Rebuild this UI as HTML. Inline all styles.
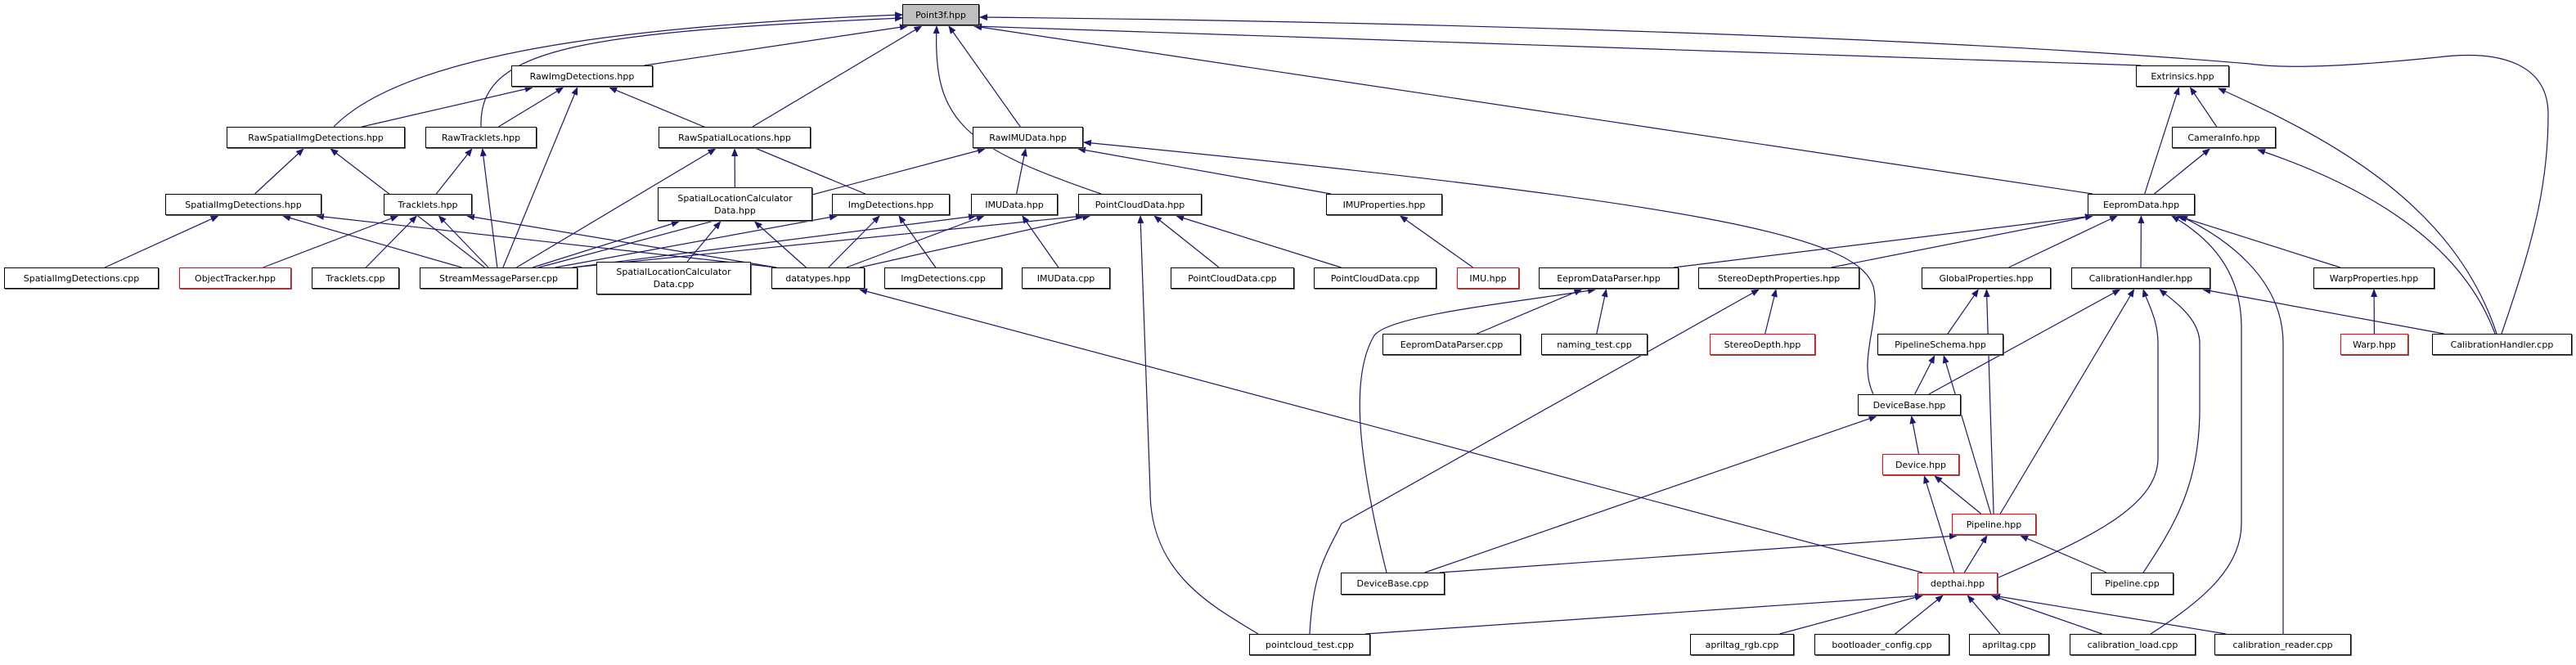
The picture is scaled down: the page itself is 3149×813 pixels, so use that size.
<!DOCTYPE html>
<html><head><meta charset="utf-8"><style>
html,body{margin:0;padding:0;background:#fff;}
#c{position:relative;width:3149px;height:813px;overflow:hidden;}
.n{position:absolute;box-sizing:border-box;border:1px solid #000;background:#fff;font-family:"DejaVu Sans","Liberation Sans",sans-serif;font-size:11px;color:#000;display:flex;align-items:center;justify-content:center;text-align:center;line-height:15px;box-shadow:1px 1px 0 #666;z-index:2;}
.r{border-color:#f00;}
.g{background:#bfbfbf;}
svg{position:absolute;left:0;top:0;z-index:1;}
</style></head><body><div id="c">
<svg id="s" width="3149" height="813"><defs><marker id="a" markerWidth="10" markerHeight="8" refX="9" refY="4" orient="auto" markerUnits="userSpaceOnUse"><path d="M0,0 L10,4 L0,8 z" fill="#191970"/></marker></defs></svg>
<div class="n g" id="p3" style="left:1103px;top:5px;width:94px;height:26px">Point3f.hpp</div>
<div class="n" id="rid" style="left:625px;top:80px;width:173px;height:26px">RawImgDetections.hpp</div>
<div class="n" id="ext" style="left:2611px;top:80px;width:114px;height:26px">Extrinsics.hpp</div>
<div class="n" id="rsid" style="left:277px;top:155px;width:218px;height:26px">RawSpatialImgDetections.hpp</div>
<div class="n" id="rt" style="left:520px;top:155px;width:136px;height:26px">RawTracklets.hpp</div>
<div class="n" id="rsl" style="left:805px;top:155px;width:186px;height:26px">RawSpatialLocations.hpp</div>
<div class="n" id="rimu" style="left:1189px;top:155px;width:135px;height:26px">RawIMUData.hpp</div>
<div class="n" id="cam" style="left:2655px;top:155px;width:127px;height:26px">CameraInfo.hpp</div>
<div class="n" id="sid" style="left:202px;top:237px;width:191px;height:26px">SpatialImgDetections.hpp</div>
<div class="n" id="tr" style="left:469px;top:237px;width:108px;height:26px">Tracklets.hpp</div>
<div class="n" id="slc" style="left:804px;top:229px;width:189px;height:41px">SpatialLocationCalculator<br>Data.hpp</div>
<div class="n" id="imgd" style="left:1017px;top:237px;width:144px;height:26px">ImgDetections.hpp</div>
<div class="n" id="imud" style="left:1187px;top:237px;width:106px;height:26px">IMUData.hpp</div>
<div class="n" id="pcd" style="left:1318px;top:237px;width:151px;height:26px">PointCloudData.hpp</div>
<div class="n" id="imup" style="left:1621px;top:237px;width:142px;height:26px">IMUProperties.hpp</div>
<div class="n" id="eep" style="left:2552px;top:237px;width:131px;height:26px">EepromData.hpp</div>
<div class="n" id="sidc" style="left:5px;top:327px;width:189px;height:26px">SpatialImgDetections.cpp</div>
<div class="n r" id="ot" style="left:219px;top:327px;width:137px;height:26px">ObjectTracker.hpp</div>
<div class="n" id="trc" style="left:381px;top:327px;width:107px;height:26px">Tracklets.cpp</div>
<div class="n" id="smp" style="left:513px;top:327px;width:193px;height:26px">StreamMessageParser.cpp</div>
<div class="n" id="slcc" style="left:729px;top:320px;width:189px;height:40px">SpatialLocationCalculator<br>Data.cpp</div>
<div class="n" id="dt" style="left:943px;top:327px;width:114px;height:26px">datatypes.hpp</div>
<div class="n" id="imgc" style="left:1081px;top:327px;width:144px;height:26px">ImgDetections.cpp</div>
<div class="n" id="imuc" style="left:1249px;top:327px;width:108px;height:26px">IMUData.cpp</div>
<div class="n" id="pc1" style="left:1431px;top:327px;width:151px;height:26px">PointCloudData.cpp</div>
<div class="n" id="pc2" style="left:1606px;top:327px;width:150px;height:26px">PointCloudData.cpp</div>
<div class="n r" id="imu" style="left:1781px;top:327px;width:76px;height:26px">IMU.hpp</div>
<div class="n" id="edp" style="left:1881px;top:327px;width:171px;height:26px">EepromDataParser.hpp</div>
<div class="n" id="sdp" style="left:2076px;top:327px;width:197px;height:26px">StereoDepthProperties.hpp</div>
<div class="n" id="gp" style="left:2349px;top:327px;width:158px;height:26px">GlobalProperties.hpp</div>
<div class="n" id="chh" style="left:2532px;top:327px;width:170px;height:26px">CalibrationHandler.hpp</div>
<div class="n" id="wp" style="left:2828px;top:327px;width:148px;height:26px">WarpProperties.hpp</div>
<div class="n" id="edpc" style="left:1690px;top:408px;width:169px;height:26px">EepromDataParser.cpp</div>
<div class="n" id="nt" style="left:1884px;top:408px;width:130px;height:26px">naming_test.cpp</div>
<div class="n r" id="sd" style="left:2090px;top:408px;width:129px;height:26px">StereoDepth.hpp</div>
<div class="n" id="ps" style="left:2295px;top:408px;width:154px;height:26px">PipelineSchema.hpp</div>
<div class="n r" id="wh" style="left:2861px;top:408px;width:83px;height:26px">Warp.hpp</div>
<div class="n" id="chc" style="left:2973px;top:408px;width:171px;height:26px">CalibrationHandler.cpp</div>
<div class="n" id="dbh" style="left:2271px;top:482px;width:126px;height:26px">DeviceBase.hpp</div>
<div class="n r" id="dev" style="left:2301px;top:555px;width:94px;height:26px">Device.hpp</div>
<div class="n r" id="pl" style="left:2386px;top:628px;width:103px;height:26px">Pipeline.hpp</div>
<div class="n" id="dbc" style="left:1639px;top:700px;width:127px;height:27px">DeviceBase.cpp</div>
<div class="n r" id="dai" style="left:2344px;top:700px;width:98px;height:27px">depthai.hpp</div>
<div class="n" id="plc" style="left:2556px;top:700px;width:101px;height:27px">Pipeline.cpp</div>
<div class="n" id="pct" style="left:1527px;top:775px;width:148px;height:26px">pointcloud_test.cpp</div>
<div class="n" id="arg" style="left:2066px;top:775px;width:127px;height:26px">apriltag_rgb.cpp</div>
<div class="n" id="blc" style="left:2218px;top:775px;width:165px;height:26px">bootloader_config.cpp</div>
<div class="n" id="at" style="left:2407px;top:775px;width:98px;height:26px">apriltag.cpp</div>
<div class="n" id="cl" style="left:2530px;top:775px;width:154px;height:26px">calibration_load.cpp</div>
<div class="n" id="cr" style="left:2707px;top:775px;width:167px;height:26px">calibration_reader.cpp</div>
</div>
<script>
var E=[["rsid","p3"],["rt","p3"],["rid","p3"],["rsl","p3"],["rimu","p3"],["pcd","p3"],["ext","p3"],["eep","p3"],["chc","p3"],
["rsid","rid"],["rt","rid"],["smp","rid"],["imgd","rid"],
["sid","rsid"],["smp","rsid"],["tr","rt"],["smp","rt"],["smp","rsl"],["slc","rsl"],
["smp","rimu"],["imud","rimu"],["imup","rimu"],["dbh","rimu"],
["sidc","sid"],["smp","sid"],["dt","sid"],["ot","tr"],["trc","tr"],["smp","tr"],["dt","tr"],
["smp","slc"],["slcc","slc"],["dt","slc"],["smp","imgd"],["dt","imgd"],["imgc","imgd"],
["smp","imud"],["dt","imud"],["imuc","imud"],["smp","pcd"],["dt","pcd"],["pc1","pcd"],["pc2","pcd"],["pct","pcd"],
["imu","imup"],["dai","dt"],["eep","ext"],["cam","ext"],["chc","ext"],["eep","cam"],["chc","cam"],
["edp","eep"],["sdp","eep"],["gp","eep"],["chh","eep"],["wp","eep"],["cl","eep"],["cr","eep"],
["edpc","edp"],["nt","edp"],["dbc","edp"],["sd","sdp"],["pct","sdp"],["ps","gp"],["pl","gp"],
["dbh","chh"],["pl","chh"],["dai","chh"],["plc","chh"],["chc","chh"],["wh","wp"],["dbh","ps"],["pl","ps"],
["dev","dbh"],["dbc","dbh"],["pl","dev"],["dai","dev"],["dbc","pl"],["dai","pl"],["plc","pl"],
["pct","dai"],["arg","dai"],["blc","dai"],["at","dai"],["cl","dai"],["cr","dai"]];
var C={
"rt,p3":"M588,155 C585,60 700,40 1103,22",
"rsid,p3":"M408,155 C500,60 800,30 1103,18",
"pcd,p3":"M1346,237 C1180,180 1140,150 1145,32",
"chc,p3":"M3058,408 C3095,300 3115,230 3115,140 C3115,80 3060,60 2980,70 C2880,80 2800,85 2750,78 C2300,40 1600,25 1198,21",
"chc,ext":"M3052,408 C3000,250 2850,170 2712,108",
"chc,cam":"M3050,408 C3010,300 2900,230 2760,183",
"dbh,rimu":"M2290,482 C2270,440 2300,390 2290,350 C2270,290 2100,250 1325,174",
"dbc,edp":"M1695,700 C1660,560 1650,460 1680,410 C1700,385 1850,370 1950,354",
"pct,sdp":"M1601,775 C1605,700 1620,680 1640,640 L2150,354",
"pct,pcd":"M1538,775 C1480,740 1406,700 1406,600 L1394,264",
"cl,eep":"M2629,775 C2700,730 2740,690 2740,640 L2740,400 C2740,330 2700,290 2655,264",
"cr,eep":"M2791,775 L2791,420 C2791,340 2720,290 2665,264",
"dai,chh":"M2443,706 C2550,660 2638,620 2638,560 L2638,420 C2638,390 2625,370 2620,354",
"plc,chh":"M2620,700 C2660,640 2689,590 2689,500 L2689,420 C2689,390 2660,370 2640,354"
};
var s=document.getElementById("s"),ns="http://www.w3.org/2000/svg";
function b(id){var e=document.getElementById(id);return{x:e.offsetLeft,y:e.offsetTop,w:e.offsetWidth,h:e.offsetHeight};}
function add(d){var p=document.createElementNS(ns,"path");p.setAttribute("d",d);p.setAttribute("stroke","#191970");p.setAttribute("fill","none");p.setAttribute("stroke-width","1.2");p.setAttribute("marker-end","url(#a)");s.appendChild(p);}
function cl(v,a,b){return Math.max(a,Math.min(b,v));}
E.forEach(function(e){var k=e[0]+","+e[1];if(C[k]){add(C[k]);return;}
var c=b(e[0]),p=b(e[1]);var cx=c.x+c.w/2,cy=c.y+c.h/2,px=p.x+p.w/2,py=p.y+p.h/2;
var a,z;
if(p.y+p.h<c.y){
 var y1=c.y,y2=p.y+p.h+1;
 var x1=cx+(px-cx)*((cy-y1)/(cy-py));x1=cl(x1,c.x+6,c.x+c.w-6);
 var x2=px+(cx-px)*((y2-py)/(cy-py));x2=cl(x2,p.x+6,p.x+p.w-6);
 a=[x1,y1];z=[x2,y2];
}else{
 var dx=px-cx,dy=py-cy;
 function clip(r,dx,dy){var x=r.x+r.w/2,y=r.y+r.h/2;var t=Math.min(dx?r.w/2/Math.abs(dx):1e9,dy?r.h/2/Math.abs(dy):1e9);return[x+dx*t,y+dy*t];}
 a=clip(c,dx,dy);z=clip(p,-dx,-dy);
}
add("M"+a[0]+","+a[1]+" L"+z[0]+","+z[1]);});
</script>
</body></html>
